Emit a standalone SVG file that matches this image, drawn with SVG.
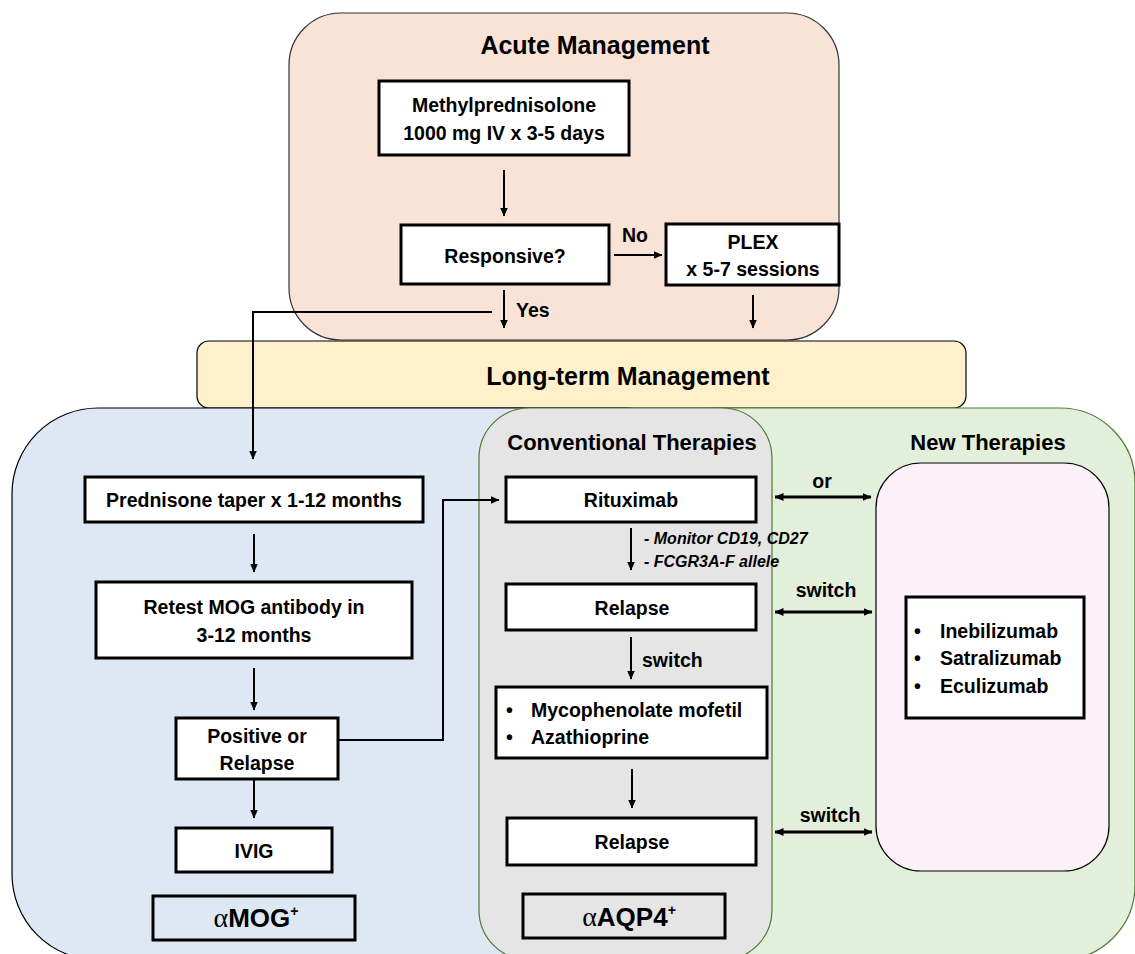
<svg xmlns="http://www.w3.org/2000/svg" width="1135" height="954" viewBox="0 0 1135 954">
<defs>
<marker id="ah" markerWidth="9" markerHeight="8" refX="8.5" refY="4" orient="auto" markerUnits="userSpaceOnUse"><path d="M0,0 L9,4 L0,8 z" fill="#000"/></marker>
<marker id="ahs" markerWidth="9" markerHeight="8" refX="0.5" refY="4" orient="auto" markerUnits="userSpaceOnUse"><path d="M9,0 L0,4 L9,8 z" fill="#000"/></marker>
<style>
text{font-family:"Liberation Sans",Arial,Helvetica,sans-serif;font-weight:bold;fill:#000}
.t{font-size:19.5px}
.h1{font-size:25px}
.h2{font-size:22px}
.it{font-size:16px;font-style:italic}
.box{fill:#fff;stroke:#000;stroke-width:3}
.ob{fill:none;stroke:#000;stroke-width:3}
.c{fill:none;stroke:#000;stroke-width:2}
.d{fill:none;stroke:#000;stroke-width:3}
.al{font-family:"Liberation Serif","DejaVu Serif",serif;font-weight:normal;font-size:28px}
</style>
</defs>

<g id="acute-panel">
<rect x="289" y="13" width="550" height="327" rx="52" fill="#f9e3d6" stroke="#333" stroke-width="1.2"/>
<text class="h1" x="595" y="54" text-anchor="middle">Acute Management</text>
</g>
<g id="longterm-bar">
<rect x="197" y="341" width="769" height="67" rx="12" fill="#fff0cc" stroke="#000" stroke-width="1.2"/>
<text class="h1" x="628" y="385" text-anchor="middle">Long-term Management</text>
</g>
<g id="mog-panel">
<rect x="12" y="408" width="700" height="552" rx="86" fill="#dee8f4" stroke="#000" stroke-width="1.2"/>
</g>
<g id="new-panel">
<rect x="640" y="408" width="495" height="552" rx="75" fill="#e2efda" stroke="#4f7a34" stroke-width="1.2"/>
<text class="h2" x="988" y="450" text-anchor="middle">New Therapies</text>
</g>
<g id="conv-panel">
<rect x="479" y="408" width="293" height="552" rx="50" fill="#e5e5e5" stroke="#4f7a34" stroke-width="1.2"/>
<text class="h2" x="632" y="450" text-anchor="middle">Conventional Therapies</text>
</g>
<g id="new-inner">
<rect x="876" y="463" width="233" height="408" rx="45" fill="#fdf1f9" stroke="#000" stroke-width="1.2"/>
</g>

<g id="n-methyl">
<rect class="box" x="379" y="81" width="250" height="74"/>
<text class="t" x="504" y="112" text-anchor="middle">Methylprednisolone</text>
<text class="t" x="504" y="140" text-anchor="middle">1000 mg IV x 3-5 days</text>
</g>
<g id="n-responsive">
<rect class="box" x="401" y="225" width="208" height="59"/>
<text class="t" x="505" y="263" text-anchor="middle">Responsive?</text>
</g>
<g id="n-plex">
<rect class="box" x="666" y="224" width="173" height="61"/>
<text class="t" x="753" y="249" text-anchor="middle">PLEX</text>
<text class="t" x="753" y="276" text-anchor="middle">x 5-7 sessions</text>
</g>
<g id="n-prednisone">
<rect class="box" x="85" y="477" width="338" height="45"/>
<text class="t" x="254" y="507" text-anchor="middle">Prednisone taper x 1-12 months</text>
</g>
<g id="n-retest">
<rect class="box" x="96" y="582" width="316" height="76"/>
<text class="t" x="254" y="614" text-anchor="middle">Retest MOG antibody in</text>
<text class="t" x="254" y="642" text-anchor="middle">3-12 months</text>
</g>
<g id="n-positive">
<rect class="box" x="176" y="718" width="162" height="61"/>
<text class="t" x="257" y="743" text-anchor="middle">Positive or</text>
<text class="t" x="257" y="770" text-anchor="middle">Relapse</text>
</g>
<g id="n-ivig">
<rect class="box" x="176" y="828" width="156" height="44"/>
<text class="t" x="254" y="858" text-anchor="middle">IVIG</text>
</g>
<g id="n-mog">
<rect class="ob" x="153" y="896" width="202" height="44"/>
<text x="256" y="927" text-anchor="middle" font-size="26"><tspan class="al">α</tspan>MOG<tspan font-size="14" dy="-11">+</tspan></text>
</g>
<g id="n-rituximab">
<rect class="box" x="506" y="477" width="250" height="45"/>
<text class="t" x="631" y="507" text-anchor="middle">Rituximab</text>
</g>
<g id="n-relapse1">
<rect class="box" x="506" y="584" width="250" height="46"/>
<text class="t" x="632" y="615" text-anchor="middle">Relapse</text>
</g>
<g id="n-myco">
<rect class="box" x="496" y="687" width="271" height="71"/>
<text class="t" x="506" y="717">•</text>
<text class="t" x="531" y="717">Mycophenolate mofetil</text>
<text class="t" x="506" y="744">•</text>
<text class="t" x="531" y="744">Azathioprine</text>
</g>
<g id="n-relapse2">
<rect class="box" x="507" y="818" width="249" height="47"/>
<text class="t" x="632" y="849" text-anchor="middle">Relapse</text>
</g>
<g id="n-aqp4">
<rect class="ob" x="523" y="894" width="202" height="44"/>
<text x="629" y="926" text-anchor="middle" font-size="26"><tspan class="al">α</tspan>AQP4<tspan font-size="14" dy="-11">+</tspan></text>
</g>
<g id="n-newlist">
<rect class="box" x="906" y="597" width="178" height="121"/>
<text class="t" x="914" y="638">•</text>
<text class="t" x="940" y="638">Inebilizumab</text>
<text class="t" x="914" y="665">•</text>
<text class="t" x="940" y="665">Satralizumab</text>
<text class="t" x="914" y="693">•</text>
<text class="t" x="940" y="693">Eculizumab</text>
</g>

<g id="connectors">
<path class="c" d="M504 170 V216" marker-end="url(#ah)"/>
<path class="c" d="M614 255 H662" marker-end="url(#ah)"/>
<text class="t" x="635" y="242" text-anchor="middle">No</text>
<path class="c" d="M504 290 V328" marker-end="url(#ah)"/>
<text class="t" x="516" y="317">Yes</text>
<path class="c" d="M753 295 V328" marker-end="url(#ah)"/>
<path class="c" d="M492 312 H253 V459" marker-end="url(#ah)"/>
<path class="c" d="M254 534 V572" marker-end="url(#ah)"/>
<path class="c" d="M254 668 V710" marker-end="url(#ah)"/>
<path class="c" d="M338 740 H443 V500 H499" marker-end="url(#ah)"/>
<path class="c" d="M254 780 V818" marker-end="url(#ah)"/>
<path class="c" d="M631 528 V570" marker-end="url(#ah)"/>
<text class="it" x="644" y="544">- Monitor CD19, CD27</text>
<text class="it" x="644" y="567">- FCGR3A-F allele</text>
<path class="c" d="M631 637 V679" marker-end="url(#ah)"/>
<text class="t" x="642" y="667">switch</text>
<path class="c" d="M632 769 V808" marker-end="url(#ah)"/>
<path class="d" d="M775 497 H871" marker-start="url(#ahs)" marker-end="url(#ah)"/>
<text class="t" x="822" y="488" text-anchor="middle">or</text>
<path class="d" d="M775 612 H872" marker-start="url(#ahs)" marker-end="url(#ah)"/>
<text class="t" x="826" y="597" text-anchor="middle">switch</text>
<path class="d" d="M775 832 H872" marker-start="url(#ahs)" marker-end="url(#ah)"/>
<text class="t" x="830" y="822" text-anchor="middle">switch</text>
</g>
</svg>
